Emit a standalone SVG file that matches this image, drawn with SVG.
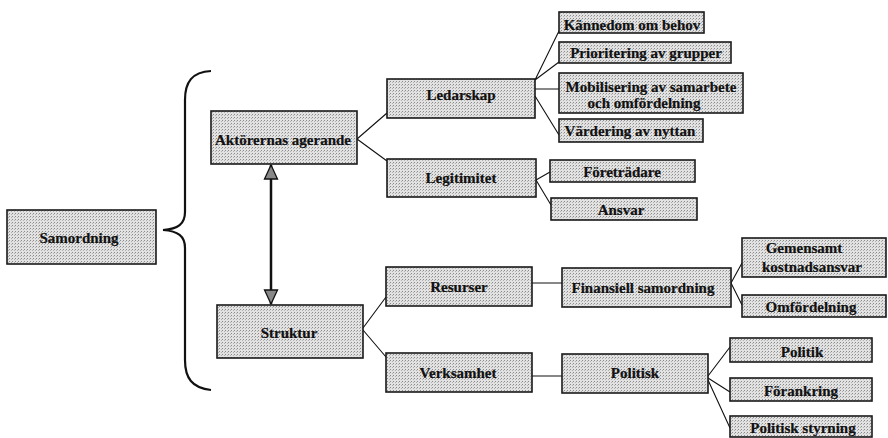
<svg xmlns="http://www.w3.org/2000/svg" width="888" height="438" viewBox="0 0 888 438">
<defs>
<pattern id="dots" width="3" height="3" patternUnits="userSpaceOnUse">
<rect width="3" height="3" fill="#e2e2e2"/>
<rect x="0" y="0" width="1" height="1" fill="#8a8a8a"/>
<rect x="2" y="1" width="1" height="1" fill="#b0b0b0"/>
</pattern>
<marker id="ah" markerUnits="userSpaceOnUse" markerWidth="16" markerHeight="16" viewBox="0 0 16 16" refX="15" refY="8" orient="auto-start-reverse">
<path d="M1,1.5 L15,8 L1,14.5 z" fill="#888" stroke="#111" stroke-width="1.3"/>
</marker>
</defs>
<style>
.box{fill:url(#dots);stroke:#1a1a1a;stroke-width:1.6}
.t{font-family:'Liberation Serif','Times New Roman',serif;font-weight:bold;font-size:15px;fill:#111;stroke:#111;stroke-width:0.2;text-anchor:middle}
.c{fill:none;stroke:#111;stroke-width:1.1}
</style>
<rect width="888" height="438" fill="#fff"/>
<g id="connectors">
<path d="M211,71 C192,72 185,82 185,100 L185,212 C185,224 178,229 163,230 C178,231 185,236 185,248 L185,360 C185,378 192,388 211,390" fill="none" stroke="#111" stroke-width="2.2"/>
<line x1="271" y1="165" x2="271" y2="304" stroke="#111" stroke-width="2.5" marker-start="url(#ah)" marker-end="url(#ah)"/>
<path class="c" d="M357,139 L387,113 M357,139 L387,161"/>
<path class="c" d="M535,80 L559,31 M535,80 L559,62 M535,89 L559,89 M535,96 L559,135"/>
<path class="c" d="M536,180 L550,172 M536,180 L551,205"/>
<path class="c" d="M363,328 L386,297 M363,330 L386,357"/>
<path class="c" d="M532,283 L562,283 M532,376 L562,376"/>
<path class="c" d="M731,283 L742,263 M731,283 L742,305"/>
<path class="c" d="M708,376 L730,347 M708,378 L730,392 M708,380 L730,428"/>
</g>
<g font-family="Liberation Serif, Times New Roman, serif">
<g id="samordning"><rect class="box" x="7" y="210" width="149" height="54"/><text class="t" x="79" y="243">Samordning</text></g>
<g id="aktorernas"><rect class="box" x="211" y="111" width="146" height="53"/><text class="t" x="283" y="145">Aktörernas agerande</text></g>
<g id="struktur"><rect class="box" x="217" y="305" width="146" height="53"/><text class="t" x="289" y="338">Struktur</text></g>
<g id="ledarskap"><rect class="box" x="387" y="79" width="148" height="39"/><text class="t" x="461" y="100">Ledarskap</text></g>
<g id="legitimitet"><rect class="box" x="387" y="159" width="149" height="38"/><text class="t" x="461" y="183">Legitimitet</text></g>
<g id="kannedom"><rect class="box" x="559" y="12" width="145" height="21"/><text class="t" x="632" y="30">Kännedom om behov</text></g>
<g id="prioritering"><rect class="box" x="559" y="42" width="172" height="21"/><text class="t" x="646" y="58">Prioritering av grupper</text></g>
<g id="mobilisering"><rect class="box" x="559" y="73" width="184" height="40"/><text class="t" x="651" y="92">Mobilisering av samarbete</text><text class="t" x="644" y="108">och omfördelning</text></g>
<g id="vardering"><rect class="box" x="559" y="119" width="144" height="23"/><text class="t" x="630" y="136">Värdering av nyttan</text></g>
<g id="foretradare"><rect class="box" x="550" y="160" width="145" height="22"/><text class="t" x="622" y="177">Företrädare</text></g>
<g id="ansvar"><rect class="box" x="551" y="198" width="146" height="22"/><text class="t" x="621" y="215">Ansvar</text></g>
<g id="resurser"><rect class="box" x="386" y="267" width="146" height="39"/><text class="t" x="459" y="292">Resurser</text></g>
<g id="verksamhet"><rect class="box" x="386" y="353" width="146" height="39"/><text class="t" x="458" y="378">Verksamhet</text></g>
<g id="finansiell"><rect class="box" x="562" y="268" width="169" height="39"/><text class="t" x="643" y="293">Finansiell samordning</text></g>
<g id="politisk"><rect class="box" x="562" y="354" width="146" height="39"/><text class="t" x="635" y="378">Politisk</text></g>
<g id="gemensamt"><rect class="box" x="742" y="238" width="144" height="39"/><text class="t" x="804" y="253">Gemensamt</text><text class="t" x="812" y="272">kostnadsansvar</text></g>
<g id="omfordelning"><rect class="box" x="742" y="295" width="144" height="22"/><text class="t" x="811" y="312">Omfördelning</text></g>
<g id="politik"><rect class="box" x="730" y="338" width="142" height="24"/><text class="t" x="802" y="357">Politik</text></g>
<g id="forankring"><rect class="box" x="730" y="378" width="142" height="23"/><text class="t" x="801" y="396">Förankring</text></g>
<g id="politisk-styrning"><rect class="box" x="730" y="416" width="142" height="21"/><text class="t" x="803" y="433">Politisk styrning</text></g>
</g>
</svg>
